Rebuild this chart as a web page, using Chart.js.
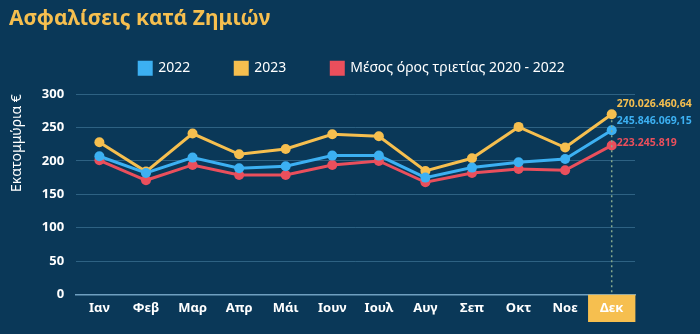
<!DOCTYPE html>
<html>
<head>
<meta charset="utf-8">
<script src="https://cdn.jsdelivr.net/npm/chart.js@4.4.0/dist/chart.umd.min.js"></script>
<style>
  html, body { margin: 0; padding: 0; background: #0a3858; }
  #wrap { width: 700px; height: 334px; }
</style>
</head>
<body>
<div id="wrap"><canvas id="claimsChart"></canvas></div>
<script>
// Months and yearly claim amounts (million €)
const months = ['Ιαν', 'Φεβ', 'Μαρ', 'Απρ', 'Μάι', 'Ιουν', 'Ιουλ', 'Αυγ', 'Σεπ', 'Οκτ', 'Νοε', 'Δεκ'];
const values2022 = [207, 182, 205, 189, 192, 208, 208, 175, 190, 198, 203, 245.84606915];
const values2023 = [228, 184, 241, 210, 218, 240, 237, 185, 204, 251, 220, 270.02646064];
const valuesAvg = [201, 171, 194, 179, 179, 194, 200, 168, 182, 188, 186, 223.245819];
const yTicks = [0, 50, 100, 150, 200, 250, 300];

const blue = '#3cb0f2';
const yellow = '#f6bf4f';
const red = '#ea4f5c';
const gridColor = 'rgba(90,150,185,0.45)';

// 245.84606915 -> "245.846.069,15"
function formatEuro(millions) {
    const cents = Math.round(millions * 1e8);
    const whole = Math.floor(cents / 100);
    const dec = cents % 100;
    let s = whole.toString().replace(/\B(?=(\d{3})+(?!\d))/g, '.');
    if (dec) s += ',' + String(dec).padStart(2, '0');
    return s;
}

// Wide legend spacing without the extra height that label padding adds,
// and centre the legend on the whole canvas rather than the padded area
const legendLayout = {
    id: 'legendLayout',
    beforeInit(chart) {
        const fit = chart.legend.fit;
        chart.legend.fit = function () {
            fit.call(this);
            this.height = 78;
        };
    },
    afterLayout(chart) {
        chart.legend.left += 30;
        chart.legend.right += 30;
    }
};

// Dotted marker on the last month plus value labels next to its points
const lastMonthPlugin = {
    id: 'lastMonth',
    afterDatasetsDraw(chart) {
        const ctx = chart.ctx;
        const last = months.length - 1;
        const pts = chart.data.datasets.map((d, i) => chart.getDatasetMeta(i).data[last]);
        const top = Math.min(...pts.map(p => p.y));
        ctx.save();
        ctx.strokeStyle = '#86a98f';
        ctx.lineWidth = 1.5;
        ctx.setLineDash([2, 3]);
        ctx.beginPath();
        ctx.moveTo(pts[0].x, top + 6);
        ctx.lineTo(pts[0].x, chart.chartArea.bottom);
        ctx.stroke();
        ctx.setLineDash([]);

        const shifts = [-9, -10, -2];
        ctx.font = 'bold 10.5px "Noto Sans"';
        ctx.textBaseline = 'middle';
        ctx.textAlign = 'left';
        chart.data.datasets.forEach((d, i) => {
            const p = pts[i];
            ctx.fillStyle = d.borderColor;
            ctx.fillText(formatEuro(d.data[last]), p.x + 5, p.y + shifts[i]);
        });
        ctx.restore();
    }
};

const ctx = document.getElementById('claimsChart').getContext('2d');
const claimsChart = new Chart(ctx, {
    type: 'line',
    data: {
        labels: months,
        datasets: [
            { label: '2022', data: values2022, borderColor: blue, backgroundColor: blue },
            { label: '2023', data: values2023, borderColor: yellow, backgroundColor: yellow },
            { label: 'Μέσος όρος τριετίας 2020 - 2022', data: valuesAvg, borderColor: red, backgroundColor: red }
        ]
    },
    options: {
        responsive: true,
        maintainAspectRatio: false,
        animation: false,
        layout: { padding: { left: 9, right: 65, top: 6, bottom: 12 } },
        elements: {
            line: { borderWidth: 3, tension: 0 },
            point: { radius: 5, borderWidth: 0, hoverRadius: 5 }
        },
        plugins: {
            title: {
                display: true,
                text: 'Ασφαλίσεις κατά Ζημιών',
                align: 'start',
                color: yellow,
                font: { family: 'Noto Sans', size: 21, weight: 'bold' },
                padding: { top: 0, bottom: -15 }
            },
            legend: {
                labels: {
                    color: '#ffffff',
                    boxWidth: 12,
                    boxHeight: 12,
                    padding: 45,
                    font: { family: 'Noto Sans', size: 14 }
                }
            },
            tooltip: { enabled: false }
        },
        scales: {
            x: {
                offset: true,
                grid: { display: false, drawTicks: false },
                border: { color: '#6f9fc0', width: 1.5 },
                ticks: {
                    color: '#ffffff',
                    padding: 6,
                    font: { family: 'Noto Sans', size: 13, weight: 'bold' },
                    showLabelBackdrop: c => c.index === months.length - 1,
                    backdropColor: yellow,
                    backdropPadding: { x: 12, y: 6 }
                }
            },
            y: {
                min: 0,
                max: 300,
                afterBuildTicks: axis => { axis.ticks = yTicks.map(v => ({ value: v })); },
                grid: { color: gridColor, drawTicks: false },
                border: { display: false },
                ticks: {
                    color: '#ffffff',
                    padding: 12,
                    font: { family: 'Noto Sans', size: 13, weight: 'bold' }
                },
                title: {
                    display: true,
                    text: 'Εκατομμύρια €',
                    align: 'end',
                    color: '#ffffff',
                    font: { family: 'Noto Sans', size: 14 },
                    padding: { top: 0, bottom: 4 }
                }
            }
        }
    },
    plugins: [legendLayout, lastMonthPlugin]
});
</script>
</body>
</html>
